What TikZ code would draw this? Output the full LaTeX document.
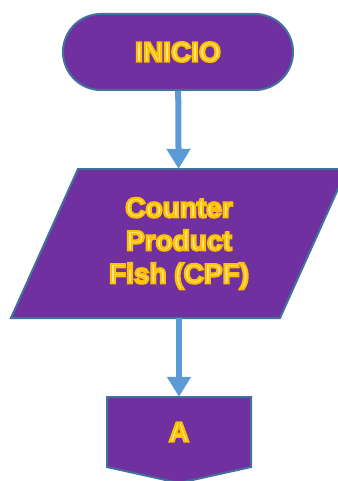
\documentclass[tikz,border=0pt]{standalone}
\usepackage{fontspec}
\setmainfont{Liberation Sans}
\usetikzlibrary{arrows.meta}
\definecolor{morado}{HTML}{7030A0}
\definecolor{borde}{HTML}{41719C}
\definecolor{flecha}{HTML}{5B9BD5}
\definecolor{oroclaro}{HTML}{FFE98A}
% texto amarillo con contorno dorado
\newcommand{\rotulo}[1]{{\color{oroclaro}\special{pdf:code q 2 Tr 2.2 w 1 0.753 0 RG}#1\special{pdf:code Q}}}
\begin{document}
\begin{tikzpicture}[x=1pt, y=-1pt,
    caja/.style = {fill=morado, draw=borde, line width=2pt},
    texto/.style = {font=\bfseries\fontsize{28}{33}\selectfont, align=center, inner sep=0pt},
    flujo/.style = {draw=flecha, line width=6pt, -{Triangle[width=23pt, length=20pt]}}]
  \useasboundingbox (0,0) rectangle (337,481);
  % formas
  \node[caja, texto, rounded corners=38pt, minimum width=230pt, minimum height=76pt] (inicio) at (178,52) {\rotulo{INICIO}};
  \draw[caja] (78,169) -- (347,169) -- (280,318) -- (11,318) -- cycle;
  \draw[caja] (107,397) -- (251,397) -- (251,467) -- (179,483) -- (107,467) -- cycle;
  \node[texto, minimum height=149pt] (cpf) at (179,243.5) {\rotulo{Counter}\\ \rotulo{Product}\\ \rotulo{Fish (CPF)}};
  \node[texto, minimum height=70pt] (a) at (179,432) {\rotulo{A}};
  % flechas
  \draw[flujo] (inicio) -- (cpf);
  \draw[flujo] (cpf) -- (a);
\end{tikzpicture}
\end{document}
